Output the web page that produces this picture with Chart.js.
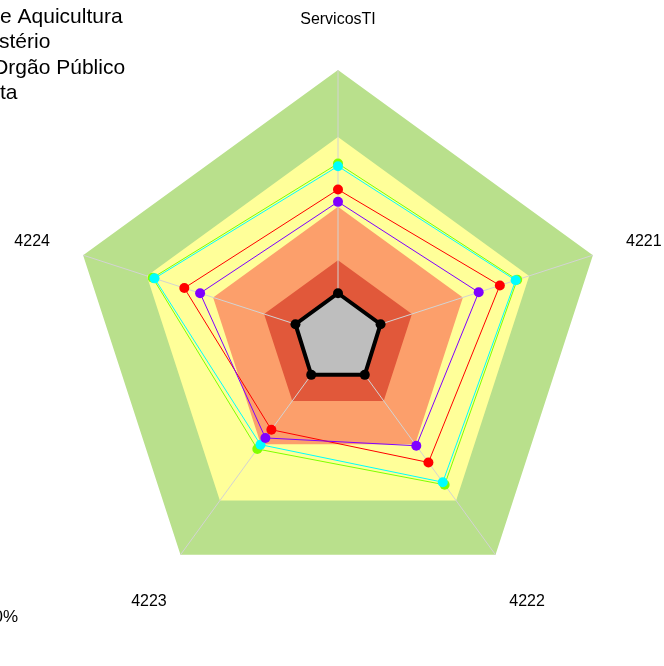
<!DOCTYPE html>
<html>
<head>
<meta charset="utf-8">
<script src="https://cdn.jsdelivr.net/npm/chart.js@4/dist/chart.umd.min.js"></script>
<style>
  html, body { margin: 0; padding: 0; background: #ffffff; }
  #wrap { width: 664px; height: 666px; }
</style>
</head>
<body>
<div id="wrap"><canvas id="c" width="664" height="666"></canvas></div>
<script>
// ---- data ----
const categories = ['ServicosTI', '4221', '4222', '4223', '4224'];
const seriesRed    = [0.554, 0.635, 0.574, 0.423, 0.603];
const seriesGreen  = [0.651, 0.703, 0.677, 0.512, 0.727];
const seriesCyan   = [0.641, 0.697, 0.665, 0.492, 0.720];
const seriesPurple = [0.508, 0.552, 0.497, 0.461, 0.541];
const seriesBase   = [0.167, 0.167, 0.170, 0.170, 0.167];
const bandLevels   = [1.0, 0.75, 0.49, 0.29];
const legendLines  = ['e Aquicultura', 'stério', 'Orgão Público', 'ta'];
const bandLegendText = '0%';

const bandColors = ['#B9E08C', '#FFFF99', '#FC9F6B', '#E1583A'];
const FONT = '"Liberation Sans", Arial, Helvetica, sans-serif';

const bandDatasets = bandLevels.map((lv, i) => ({
  label: 'band' + i,
  data: categories.map(() => lv),
  backgroundColor: bandColors[i],
  borderWidth: 0,
  borderColor: 'rgba(0,0,0,0)',
  fill: 'start',
  pointRadius: 0,
  order: 20 - i
}));

function series(label, data, color, order) {
  return {
    label, data,
    borderColor: color, backgroundColor: color,
    borderWidth: 1, fill: false,
    pointRadius: 5, pointBackgroundColor: color, pointBorderWidth: 0,
    order
  };
}

const datasets = [
  ...bandDatasets,
  {
    label: 'base', data: seriesBase,
    borderColor: '#000000', borderWidth: 4,
    backgroundColor: '#BEBEBE', fill: 'start',
    pointRadius: 5, pointBackgroundColor: '#000000', pointBorderWidth: 0,
    order: 10
  },
  series('red', seriesRed, '#FF0000', 4),
  series('green', seriesGreen, '#80FF00', 3),
  series('cyan', seriesCyan, '#00FFFF', 2),
  series('purple', seriesPurple, '#8000FF', 1)
];

const lastBandIndex = bandLevels.length - 1;

const spokesPlugin = {
  id: 'spokes',
  afterDatasetDraw(chart, args) {
    if (args.index !== lastBandIndex) return;
    const sc = chart.scales.r;
    const ctx = chart.ctx;
    ctx.save();
    ctx.strokeStyle = '#D3D3D3';
    ctx.lineWidth = 1;
    for (let i = 0; i < categories.length; i++) {
      const p = sc.getPointPositionForValue(i, sc.max);
      ctx.beginPath();
      ctx.moveTo(sc.xCenter, sc.yCenter);
      ctx.lineTo(p.x, p.y);
      ctx.stroke();
    }
    ctx.restore();
  }
};

const textPlugin = {
  id: 'texts',
  afterDraw(chart) {
    const sc = chart.scales.r;
    const ctx = chart.ctx;
    ctx.save();
    ctx.fillStyle = '#000000';
    ctx.font = '16px ' + FONT;
    ctx.textAlign = 'center';
    ctx.textBaseline = 'middle';
    for (let i = 0; i < categories.length; i++) {
      const p = sc.getPointPosition(i, sc.drawingArea * 1.2);
      ctx.fillText(categories[i], p.x, p.y + 3);
    }
    ctx.font = '21px ' + FONT;
    ctx.textAlign = 'left';
    ctx.textBaseline = 'alphabetic';
    const xs = [0, -1, -8, 0];
    legendLines.forEach((t, i) => ctx.fillText(t, xs[i], 23 + i * 25.4));
    ctx.font = '17px ' + FONT;
    ctx.textAlign = 'right';
    ctx.fillText(bandLegendText, 18, 622);
    ctx.restore();
  }
};

new Chart(document.getElementById('c'), {
  type: 'radar',
  data: { labels: categories, datasets },
  options: {
    responsive: false,
    animation: false,
    devicePixelRatio: 1,
    layout: { padding: { left: 70, top: 70, right: 58, bottom: 60 } },
    elements: { line: { tension: 0 } },
    plugins: { legend: { display: false }, tooltip: { enabled: false } },
    scales: {
      r: {
        min: 0, max: 1,
        startAngle: 0,
        ticks: { display: false },
        grid: { display: false },
        angleLines: { display: false },
        pointLabels: { display: false }
      }
    }
  },
  plugins: [spokesPlugin, textPlugin]
});
</script>
</body>
</html>
